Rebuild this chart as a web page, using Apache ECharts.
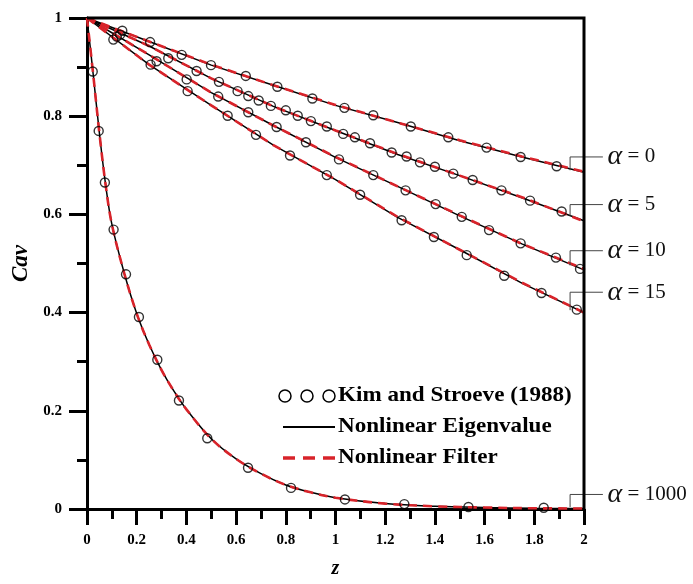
<!DOCTYPE html>
<html>
<head>
<meta charset="utf-8">
<script src="https://cdn.jsdelivr.net/npm/echarts@6/dist/echarts.min.js"></script>
<style>html,body{margin:0;padding:0;background:#fff}#c{width:693px;height:584px}</style>
</head>
<body>
<div id="c"></div>
<script>
// ---- data ----
const zLin = [0, 0.25, 0.5, 0.75, 1.0, 1.25, 1.5, 1.75, 2.0];
const eigA0  = [1, 0.952, 0.904, 0.863, 0.822, 0.787, 0.750, 0.717, 0.686];
const eigA5  = [1, 0.943, 0.877, 0.820, 0.771, 0.722, 0.679, 0.634, 0.587];
const eigA10 = [1, 0.925, 0.848, 0.781, 0.716, 0.657, 0.597, 0.540, 0.487];
const eigA15 = [1, 0.905, 0.822, 0.741, 0.671, 0.594, 0.528, 0.460, 0.400];
const filA0  = [1, 0.952, 0.905, 0.863, 0.823, 0.787, 0.751, 0.718, 0.687];
const filA5  = [1, 0.943, 0.877, 0.820, 0.771, 0.723, 0.679, 0.635, 0.586];
const filA10 = [1, 0.925, 0.848, 0.781, 0.717, 0.657, 0.598, 0.540, 0.489];
const filA15 = [1, 0.905, 0.822, 0.741, 0.671, 0.595, 0.528, 0.461, 0.400];

const zExp = [0, 0.025, 0.05, 0.075, 0.1, 0.15, 0.2, 0.25, 0.3, 0.35, 0.4, 0.5, 0.6, 0.7, 0.8, 0.9, 1.0, 1.2, 1.4, 1.6, 1.8, 2.0];
const eigA1000 = [1, 0.885, 0.765, 0.66, 0.58, 0.48, 0.398, 0.335, 0.283, 0.24, 0.203, 0.143, 0.102, 0.072, 0.049, 0.034, 0.023, 0.011, 0.0055, 0.003, 0.0015, 0.001];
const filA1000 = [1, 0.885, 0.765, 0.66, 0.58, 0.48, 0.398, 0.335, 0.283, 0.24, 0.203, 0.143, 0.102, 0.072, 0.049, 0.034, 0.023, 0.011, 0.0055, 0.003, 0.0015, 0.001];

const kimA0 = [[0.142,0.974],[0.254,0.951],[0.381,0.925],[0.499,0.904],[0.639,0.882],[0.766,0.860],[0.907,0.836],[1.036,0.817],[1.152,0.802],[1.303,0.779],[1.454,0.757],[1.608,0.736],[1.745,0.717],[1.890,0.698]];
const kimA5 = [[0.133,0.966],[0.327,0.918],[0.441,0.892],[0.531,0.870],[0.606,0.851],[0.649,0.841],[0.691,0.832],[0.740,0.821],[0.800,0.812],[0.848,0.801],[0.901,0.790],[0.965,0.779],[1.031,0.764],[1.078,0.757],[1.139,0.745],[1.226,0.726],[1.286,0.718],[1.340,0.706],[1.400,0.697],[1.474,0.683],[1.552,0.670],[1.668,0.649],[1.783,0.628],[1.910,0.606]];
const kimA10 = [[0.120,0.962],[0.280,0.912],[0.401,0.875],[0.528,0.840],[0.649,0.808],[0.763,0.778],[0.881,0.747],[1.014,0.712],[1.152,0.680],[1.282,0.649],[1.403,0.621],[1.508,0.595],[1.618,0.568],[1.745,0.541],[1.887,0.512],[1.984,0.489]];
const kimA15 = [[0.106,0.956],[0.256,0.905],[0.405,0.851],[0.566,0.801],[0.680,0.762],[0.817,0.720],[0.965,0.680],[1.099,0.640],[1.266,0.588],[1.396,0.554],[1.528,0.517],[1.679,0.475],[1.829,0.440],[1.971,0.406]];
const kimA1000 = [[0.023,0.891],[0.047,0.770],[0.072,0.665],[0.107,0.569],[0.157,0.478],[0.209,0.391],[0.283,0.304],[0.370,0.221],[0.484,0.144],[0.648,0.084],[0.821,0.043],[1.038,0.0195],[1.277,0.010],[1.535,0.004],[1.838,0.0026]];

const xTicks = [0, 0.2, 0.4, 0.6, 0.8, 1, 1.2, 1.4, 1.6, 1.8, 2];
const yTicks = [0, 0.2, 0.4, 0.6, 0.8, 1];

const legendNames = ['Kim and Stroeve (1988)', 'Nonlinear Eigenvalue', 'Nonlinear Filter'];
const annoLabels = ['0', '5', '10', '15', '1000'];
const annoLevel = [0.717, 0.620, 0.526, 0.4415, 0.0296];
const annoFoot  = [0.690, 0.597, 0.496, 0.405, 0.004];

// ---- chart ----
const zip = (xs, ys) => xs.map((x, i) => [x, ys[i]]);
const SERIF = '"Liberation Serif", "Times New Roman", serif';
const chart = echarts.init(document.getElementById('c'));

const eigCurves = [[zLin, eigA0], [zLin, eigA5], [zLin, eigA10], [zLin, eigA15], [zExp, eigA1000]];
const filCurves = [[zLin, filA0], [zLin, filA5], [zLin, filA10], [zLin, filA15], [zExp, filA1000]];
const kimSets = [kimA0, kimA5, kimA10, kimA15, kimA1000];

const series = [];
eigCurves.forEach(([xs, ys], i) => series.push({
  name: legendNames[1], type: 'line', data: zip(xs, ys), showSymbol: false,
  smooth: i === 4 ? 0.35 : false,
  lineStyle: {color: '#000', width: 1.5}, z: 2, silent: true
}));
filCurves.forEach(([xs, ys], i) => series.push({
  name: legendNames[2], type: 'line', data: zip(xs, ys), showSymbol: false,
  smooth: i === 4 ? 0.35 : false,
  lineStyle: {color: '#d8232a', width: 2.6, type: [9, 6]}, z: 3, silent: true
}));
kimSets.forEach(d => series.push({
  name: legendNames[0], type: 'scatter', data: d, symbol: 'circle', symbolSize: 9,
  itemStyle: {color: 'rgba(0,0,0,0)', borderColor: '#000', borderWidth: 1.4}, z: 4, silent: true
}));

const labelStyle = {color: '#000', fontFamily: SERIF, fontWeight: 'bold', fontSize: 15};

chart.setOption({
  animation: false,
  backgroundColor: '#fff',
  grid: {left: 87, right: 109, top: 18, bottom: 70},
  xAxis: {
    type: 'value', min: xTicks[0], max: xTicks[xTicks.length - 1], interval: xTicks[1] - xTicks[0],
    axisLine: {show: true, lineStyle: {color: '#000', width: 3}},
    axisTick: {show: true, length: 16, lineStyle: {color: '#000', width: 3}},
    minorTick: {show: true, splitNumber: 2, length: 10, lineStyle: {color: '#000', width: 3}},
    splitLine: {show: false},
    axisLabel: Object.assign({margin: 24}, labelStyle),
    name: 'z', nameLocation: 'middle', nameGap: 50,
    nameTextStyle: {fontFamily: SERIF, fontStyle: 'italic', fontWeight: 'bold', fontSize: 20, color: '#000'}
  },
  yAxis: {
    type: 'value', min: yTicks[0], max: yTicks[yTicks.length - 1], interval: yTicks[1] - yTicks[0],
    axisLine: {show: true, lineStyle: {color: '#000', width: 3}},
    axisTick: {show: true, length: 18, lineStyle: {color: '#000', width: 3}},
    minorTick: {show: true, splitNumber: 2, length: 10, lineStyle: {color: '#000', width: 3}},
    splitLine: {show: false},
    axisLabel: Object.assign({margin: 25}, labelStyle),
    name: 'Cav', nameLocation: 'middle', nameGap: 54, nameRotate: 90,
    nameTextStyle: {fontFamily: SERIF, fontStyle: 'italic', fontWeight: 'bold', fontSize: 23, color: '#000'}
  },
  series: series
});

// ---- frame, annotations & legend (graphic) ----
const graphics = [];
const pTL = chart.convertToPixel({gridIndex: 0}, [xTicks[0], yTicks[yTicks.length - 1]]);
const pTR = chart.convertToPixel({gridIndex: 0}, [xTicks[xTicks.length - 1], yTicks[yTicks.length - 1]]);
const pBR = chart.convertToPixel({gridIndex: 0}, [xTicks[xTicks.length - 1], yTicks[0]]);
graphics.push({type: 'polyline', silent: true, z: 20, shape: {points: [pTL, pTR, pBR]},
  style: {stroke: '#000', lineWidth: 3, fill: null, lineJoin: 'miter'}});

const hEndZ = 2.076, vZ = 1.944, txtZ = 2.095;
annoLabels.forEach((lab, i) => {
  const pFoot = chart.convertToPixel({gridIndex: 0}, [vZ, annoFoot[i]]);
  const pLev = chart.convertToPixel({gridIndex: 0}, [vZ, annoLevel[i]]);
  const pEnd = chart.convertToPixel({gridIndex: 0}, [hEndZ, annoLevel[i]]);
  const pTxt = chart.convertToPixel({gridIndex: 0}, [txtZ, annoLevel[i]]);
  graphics.push({
    type: 'polyline', z: 10, silent: true,
    shape: {points: [pFoot, pLev, pEnd]},
    style: {stroke: '#444', lineWidth: 1, fill: null}
  });
  graphics.push({
    type: 'text', z: 10, silent: true, x: pTxt[0], y: pTxt[1],
    style: {
      text: '{a|α}{n| = ' + lab + '}',
      verticalAlign: 'middle', align: 'left',
      rich: {
        a: {fontFamily: SERIF, fontStyle: 'italic', fontSize: 28, fill: '#111'},
        n: {fontFamily: SERIF, fontSize: 21, fill: '#111'}
      }
    }
  });
});

// legend
const legY = [396, 427, 458];
const legTxtX = 338;
[285, 307, 329].forEach(cx => graphics.push({
  type: 'circle', silent: true, z: 10, shape: {cx: cx, cy: legY[0], r: 6},
  style: {stroke: '#000', lineWidth: 1.5, fill: 'transparent'}
}));
graphics.push({type: 'line', silent: true, z: 10, shape: {x1: 283, y1: legY[1], x2: 335, y2: legY[1]}, style: {stroke: '#000', lineWidth: 2}});
[[283, 295], [303, 315], [323, 335]].forEach(s => graphics.push({
  type: 'line', silent: true, z: 10, shape: {x1: s[0], y1: legY[2], x2: s[1], y2: legY[2]}, style: {stroke: '#d8232a', lineWidth: 3.5}
}));
legendNames.forEach((n, i) => graphics.push({
  type: 'text', silent: true, z: 10, x: legTxtX, y: legY[i], scaleX: 1.1,
  style: {text: n, fontFamily: SERIF, fontWeight: 'bold', fontSize: 21, fill: '#000', verticalAlign: 'middle', align: 'left'}
}));

chart.setOption({graphic: graphics});
</script>
</body>
</html>
